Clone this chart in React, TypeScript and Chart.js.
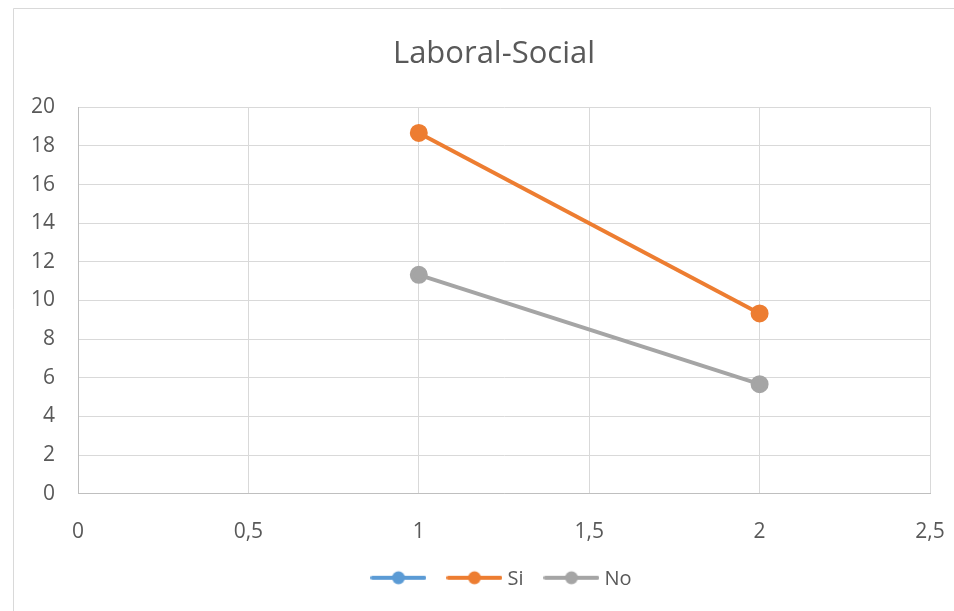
import React, { useEffect, useRef } from "react";
import { Chart, registerables } from "chart.js";

Chart.register(...registerables);

const chartTitle = "Laboral-Social";
const xValues = [1, 2];
const seriesNames = ["", "Si", "No"];
const blankValues: number[] = [];
const siValues = [18.67, 9.33];
const noValues = [11.33, 5.67];
const seriesColors = ["#5B9BD5", "#ED7D31", "#A5A5A5"];
const xTicks = { min: 0, max: 2.5, step: 0.5 };
const yTicks = { min: 0, max: 20, step: 2 };

const FONT = "'Open Sans', sans-serif";
const TEXT = "#595959";
const GRID = "#D9D9D9";

function makeLegendImage(color: string) {
  const c = document.createElement("canvas");
  c.width = 56;
  c.height = 16;
  const ctx = c.getContext("2d")!;
  ctx.strokeStyle = color;
  ctx.lineWidth = 4;
  ctx.lineCap = "round";
  ctx.beginPath();
  ctx.moveTo(2, 8);
  ctx.lineTo(54, 8);
  ctx.stroke();
  ctx.fillStyle = color;
  ctx.beginPath();
  ctx.arc(28, 8, 6.5, 0, Math.PI * 2);
  ctx.fill();
  return c;
}

const borderPlugin = {
  id: "outerBorder",
  beforeDraw(chart: any) {
    const ctx = chart.ctx;
    ctx.save();
    ctx.fillStyle = "#ffffff";
    ctx.fillRect(0, 0, chart.width, chart.height);
    ctx.strokeStyle = GRID;
    ctx.lineWidth = 1;
    ctx.beginPath();
    ctx.moveTo(13.5, chart.height);
    ctx.lineTo(13.5, 8.5);
    ctx.lineTo(chart.width, 8.5);
    ctx.stroke();
    ctx.restore();
  },
};

function makeLegendPlugin(images: HTMLCanvasElement[]) {
  return {
    id: "lineLegend",
    afterDraw(chart: any) {
      const ctx = chart.ctx;
      ctx.save();
      ctx.font = `20px ${FONT}`;
      ctx.textBaseline = "middle";
      ctx.fillStyle = TEXT;
      const gapText = 5;
      const gapItem = 20;
      const items = chart.data.datasets.map((ds: any, i: number) => {
        const tw = ds.label ? ctx.measureText(ds.label).width : 0;
        const w = images[i].width + (ds.label ? gapText + tw : 0);
        return { label: ds.label, img: images[i], w };
      });
      const total =
        items.reduce((s: number, it: any) => s + it.w, 0) + gapItem * (items.length - 1);
      const cy = chart.chartArea.bottom + 84;
      let x = chart.width / 2 + 7 - total / 2;
      items.forEach((it: any) => {
        ctx.drawImage(it.img, x, cy - it.img.height / 2);
        if (it.label) ctx.fillText(it.label, x + it.img.width + gapText, cy + 1);
        x += it.w + gapItem;
      });
      ctx.restore();
    },
  };
}

export default function App() {
  const ref = useRef<HTMLCanvasElement | null>(null);

  useEffect(() => {
    document.body.style.margin = "0";
    const canvas = ref.current!;
    const seriesData = [blankValues, siValues, noValues];
    const datasets = seriesNames.map((name, i) => ({
      label: name,
      data: seriesData[i].map((v, j) => ({ x: xValues[j], y: v })),
      borderColor: seriesColors[i],
      backgroundColor: seriesColors[i],
      pointBackgroundColor: seriesColors[i],
      pointBorderColor: seriesColors[i],
      borderWidth: 4,
      pointRadius: 7,
      pointHoverRadius: 7,
      showLine: true,
      yAxisID: "y",
      xAxisID: "x",
    }));
    const images = seriesColors.map((c) => makeLegendImage(c));

    const chart = new Chart(canvas, {
      type: "scatter",
      data: { datasets },
      plugins: [borderPlugin, makeLegendPlugin(images)],
      options: {
        animation: false,
        responsive: false,
        devicePixelRatio: 1,
        layout: { padding: { top: 0, bottom: 40, left: 0, right: 0 } },
        plugins: {
          tooltip: { enabled: false },
          legend: { display: false },
          title: {
            display: true,
            text: chartTitle,
            color: TEXT,
            font: { family: FONT, size: 31, weight: "normal", lineHeight: 1.2 },
            padding: { top: 36, bottom: 34 },
          },
        },
        scales: {
          x: {
            type: "linear",
            position: "bottom",
            min: xTicks.min,
            max: xTicks.max,
            grid: { color: GRID, lineWidth: 1, drawTicks: false },
            border: { color: "#BFBFBF", width: 1 },
            ticks: {
              stepSize: xTicks.step,
              padding: 26,
              color: TEXT,
              font: { family: FONT, size: 21 },
              maxRotation: 0,
              callback: (v: any) => String(v).replace(".", ","),
            },
          },
          y: {
            type: "linear",
            position: "left",
            min: yTicks.min,
            max: yTicks.max,
            grid: { color: GRID, lineWidth: 1, drawTicks: false },
            border: { color: "#BFBFBF", width: 1 },
            ticks: {
              stepSize: yTicks.step,
              padding: 23,
              color: TEXT,
              font: { family: FONT, size: 21 },
            },
            afterFit: (scale: any) => {
              scale.width = 78;
            },
          },
          yRight: {
            type: "linear",
            position: "right",
            display: true,
            grid: { display: false, drawTicks: false },
            border: { display: false },
            ticks: { display: false },
            afterFit: (scale: any) => {
              scale.width = 58;
            },
          },
        },
      } as any,
    });
    return () => chart.destroy();
  }, []);

  return (
    <div style={{ width: 954, height: 611, overflow: "hidden", position: "relative" }}>
      <canvas ref={ref} width={988} height={611} style={{ display: "block" }} />
    </div>
  );
}
